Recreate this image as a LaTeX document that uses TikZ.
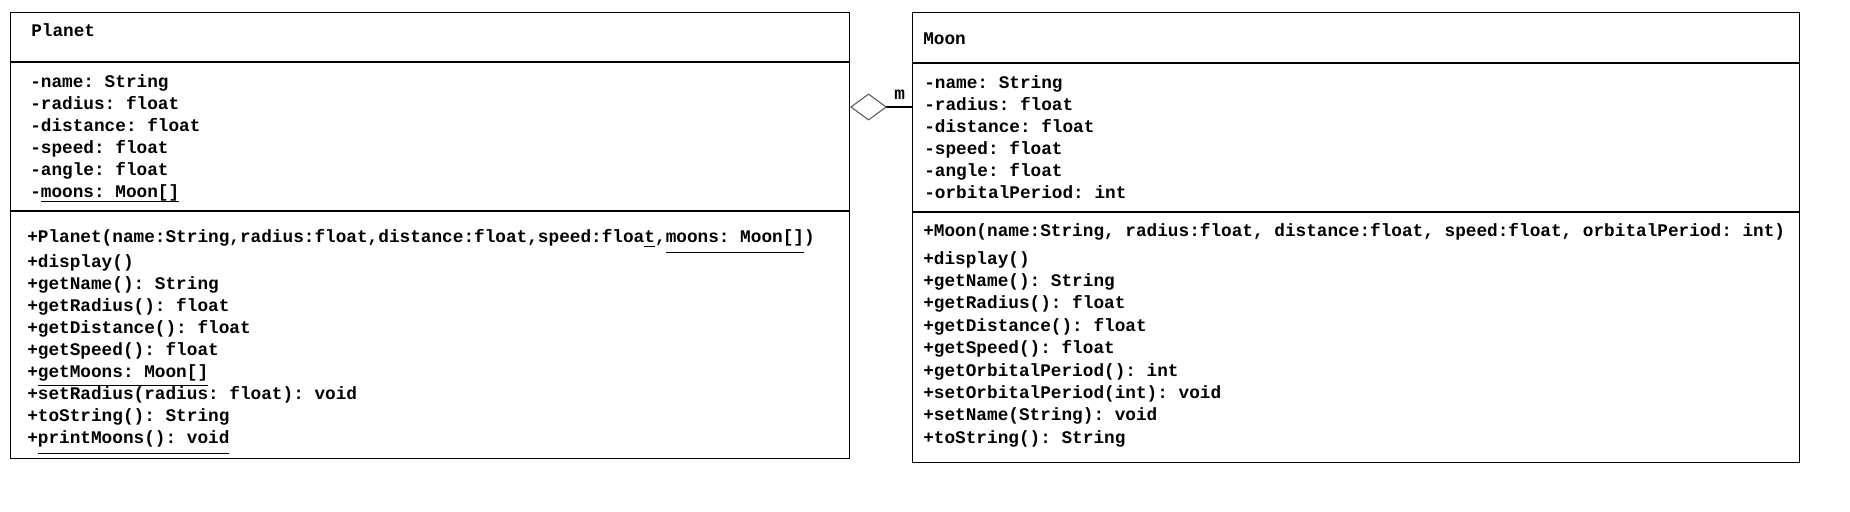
\documentclass[tikz,border=0pt]{standalone}
\usepackage{fontspec}
\setmonofont{Liberation Mono}
\usetikzlibrary{
		positioning,
		arrows.meta
	}
\tikzset{
		>=stealth
	}
\newlength\ulwd
\newcommand{\ulin}[2][3.5pt]{\settowidth{\ulwd}{#2}\rlap{\rule[-#1]{\ulwd}{0.75pt}}#2}

\begin{document}
\begin{tikzpicture}
		[x=0.75pt, y=-0.75pt,
		class/.style= {draw, line width=0.8pt, anchor=north west, inner sep=0pt},
		member/.style= {anchor=base west, inner sep=0pt, font=\ttfamily\bfseries\fontsize{13.3}{16}\selectfont},
		agg/.style= {line width=0.8pt, -{Diamond[open, length=27.75pt, width=20.25pt, line width=0.8pt, color=black!65]}}
		]
		\useasboundingbox (0,0) rectangle (1850,511);

		% class boxes
		\node [class, minimum width=629.25pt, minimum height=334.5pt] (P) at (10,12) {};
		\node [class, minimum width=665.25pt, minimum height=337.5pt] (M) at (912,12) {};

		\draw [line width=0.8pt] (P.west |- 0,62) -- (P.east |- 0,62);
		\draw [line width=0.8pt] (P.west |- 0,211) -- (P.east |- 0,211);
		\draw [line width=0.8pt] (M.west |- 0,63) -- (M.east |- 0,63);
		\draw [line width=0.8pt] (M.west |- 0,212) -- (M.east |- 0,212);

		% Planet
		\node [member] (P_T) at (31,36) {Planet};
		\foreach \txt [count=\i] in {-name: String, -radius: float, -distance: float,
				-speed: float, -angle: float, -\ulin{moons: Moon[]}}
			\node [member] (PA_\i) at (30,{65+22*\i}) {\txt};
		\node [member] (PC) at (27,242) {+Planet(name:String,radius:float,distance:float,speed:floa\ulin[4pt]{t},\ulin[8.5pt]{moons: Moon[]})};
		\foreach \txt [count=\i] in {+display(), +getName(): String, +getRadius(): float,
				+getDistance(): float, +getSpeed(): float, +\ulin[6.3pt]{getMoons: Moon[]},
				+setRadius(radius: float): void, +toString(): String, +\ulin[7.8pt]{printMoons(): void}}
			\node [member] (PM_\i) at (27,{244.9+22.1*\i}) {\txt};

		% Moon
		\node [member] (M_T) at (923,44) {Moon};
		\foreach \txt [count=\i] in {-name: String, -radius: float, -distance: float,
				-speed: float, -angle: float, -orbitalPeriod: int}
			\node [member] (MA_\i) at (924,{66+22*\i}) {\txt};
		\node [member] (MC) at (923,236) {+Moon(name:String, radius:float, distance:float, speed:float, orbitalPeriod: int)};
		\foreach \txt [count=\i] in {+display(), +getName(): String, +getRadius(): float,
				+getDistance(): float, +getSpeed(): float, +getOrbitalPeriod(): int,
				+setOrbitalPeriod(int): void, +setName(String): void, +toString(): String}
			\node [member] (MM_\i) at (923,{241.6+22.4*\i}) {\txt};

		% aggregation
		\draw [agg] (M.west |- 0,107) -- node [member, anchor=base, pos=0.2, yshift=6pt] (MUL) {m} (P.east |- 0,107);

	\end{tikzpicture}
\end{document}
